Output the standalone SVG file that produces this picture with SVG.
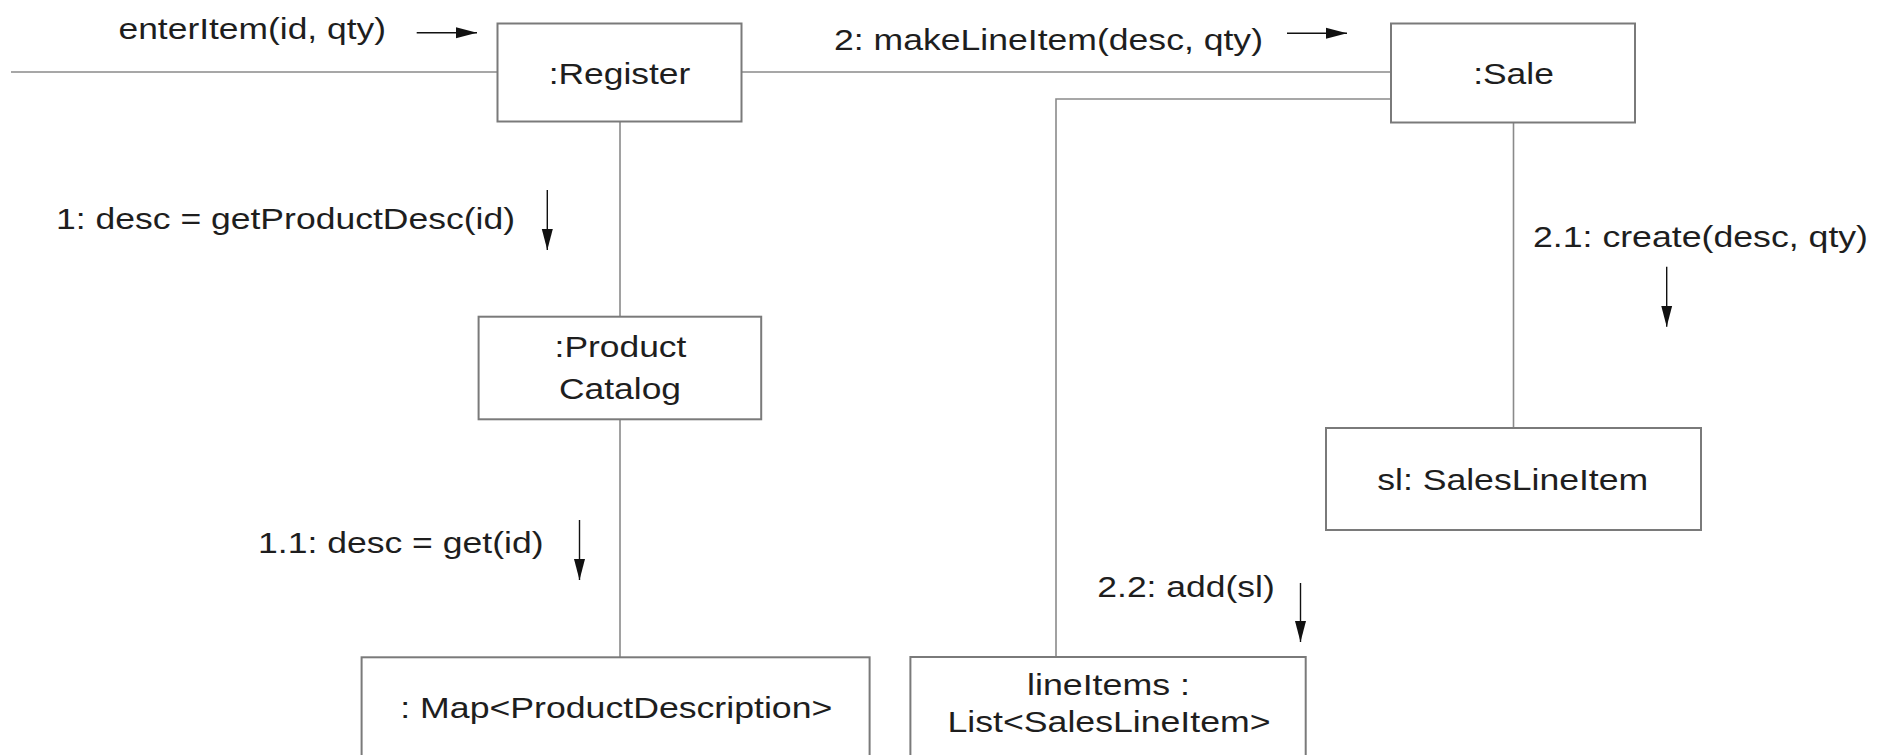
<svg xmlns="http://www.w3.org/2000/svg" width="1890" height="755" viewBox="0 0 1890 755">
<style>
.box{fill:#fff;stroke:#7a7a7a;stroke-width:2}
.conn{fill:none;stroke:#8a8a8a;stroke-width:1.6}
.msg{stroke:#111;stroke-width:1.4;fill:none}
text{font-family:"Liberation Sans",Arial,Helvetica,sans-serif;font-size:30px;fill:#1e1e1e}
.c{text-anchor:middle}
</style>
<defs>
<marker id="ah" markerUnits="userSpaceOnUse" markerWidth="22" markerHeight="12" viewBox="0 0 22 12" refX="21" refY="6" orient="auto">
<path d="M0,0.5 L21,6 L0,11.5 Z" fill="#111"/>
</marker>
</defs>
<rect width="1890" height="755" fill="#fff"/>
<g id="connectors">
<polyline class="conn" points="11,72 497.5,72"/>
<polyline class="conn" points="741.5,72 1391,72"/>
<polyline class="conn" points="1391,99 1056,99 1056,657"/>
<polyline class="conn" points="620,121.5 620,317"/>
<polyline class="conn" points="620,419 620,657"/>
<polyline class="conn" points="1513.5,123 1513.5,428"/>
</g>
<g id="messages">
<line class="msg" x1="416.7" y1="32.7" x2="477" y2="32.7" marker-end="url(#ah)"/>
<text x="118.5" y="38.5" textLength="267.5" lengthAdjust="spacingAndGlyphs">enterItem(id, qty)</text>
<line class="msg" x1="1287" y1="33.3" x2="1347" y2="33.3" marker-end="url(#ah)"/>
<text x="834" y="50" textLength="429" lengthAdjust="spacingAndGlyphs">2: makeLineItem(desc, qty)</text>
<line class="msg" x1="547.3" y1="190" x2="547.3" y2="250" marker-end="url(#ah)"/>
<text x="56" y="229" textLength="459" lengthAdjust="spacingAndGlyphs">1: desc = getProductDesc(id)</text>
<line class="msg" x1="579.5" y1="520" x2="579.5" y2="580" marker-end="url(#ah)"/>
<text x="258" y="553" textLength="285.5" lengthAdjust="spacingAndGlyphs">1.1: desc = get(id)</text>
<line class="msg" x1="1666.7" y1="266.7" x2="1666.7" y2="326.7" marker-end="url(#ah)"/>
<text x="1533" y="246.5" textLength="335" lengthAdjust="spacingAndGlyphs">2.1: create(desc, qty)</text>
<line class="msg" x1="1300.5" y1="583" x2="1300.5" y2="642" marker-end="url(#ah)"/>
<text x="1097.3" y="596.5" textLength="177.5" lengthAdjust="spacingAndGlyphs">2.2: add(sl)</text>
</g>
<g id="register">
<rect class="box" x="497.5" y="23.5" width="244" height="98"/>
<text class="c" x="619.5" y="84" textLength="141.6" lengthAdjust="spacingAndGlyphs">:Register</text>
</g>
<g id="sale">
<rect class="box" x="1391" y="23.5" width="244" height="99"/>
<text class="c" x="1513.5" y="84" textLength="80.7" lengthAdjust="spacingAndGlyphs">:Sale</text>
</g>
<g id="productCatalog">
<rect class="box" x="478.6" y="316.7" width="282.6" height="102.6"/>
<text class="c" x="620.5" y="356.7" textLength="131.8" lengthAdjust="spacingAndGlyphs">:Product</text>
<text class="c" x="620" y="399.3" textLength="122" lengthAdjust="spacingAndGlyphs">Catalog</text>
</g>
<g id="salesLineItem">
<rect class="box" x="1326" y="428" width="375" height="102"/>
<text class="c" x="1512.7" y="490" textLength="271" lengthAdjust="spacingAndGlyphs">sl: SalesLineItem</text>
</g>
<g id="productMap">
<rect class="box" x="361.6" y="657.3" width="508" height="120"/>
<text class="c" x="616.3" y="718.3" textLength="432" lengthAdjust="spacingAndGlyphs">: Map&lt;ProductDescription&gt;</text>
</g>
<g id="lineItems">
<rect class="box" x="910.4" y="657" width="395.3" height="120"/>
<text class="c" x="1108.5" y="695" textLength="163" lengthAdjust="spacingAndGlyphs">lineItems :</text>
<text class="c" x="1109" y="731.7" textLength="323" lengthAdjust="spacingAndGlyphs">List&lt;SalesLineItem&gt;</text>
</g>
</svg>
